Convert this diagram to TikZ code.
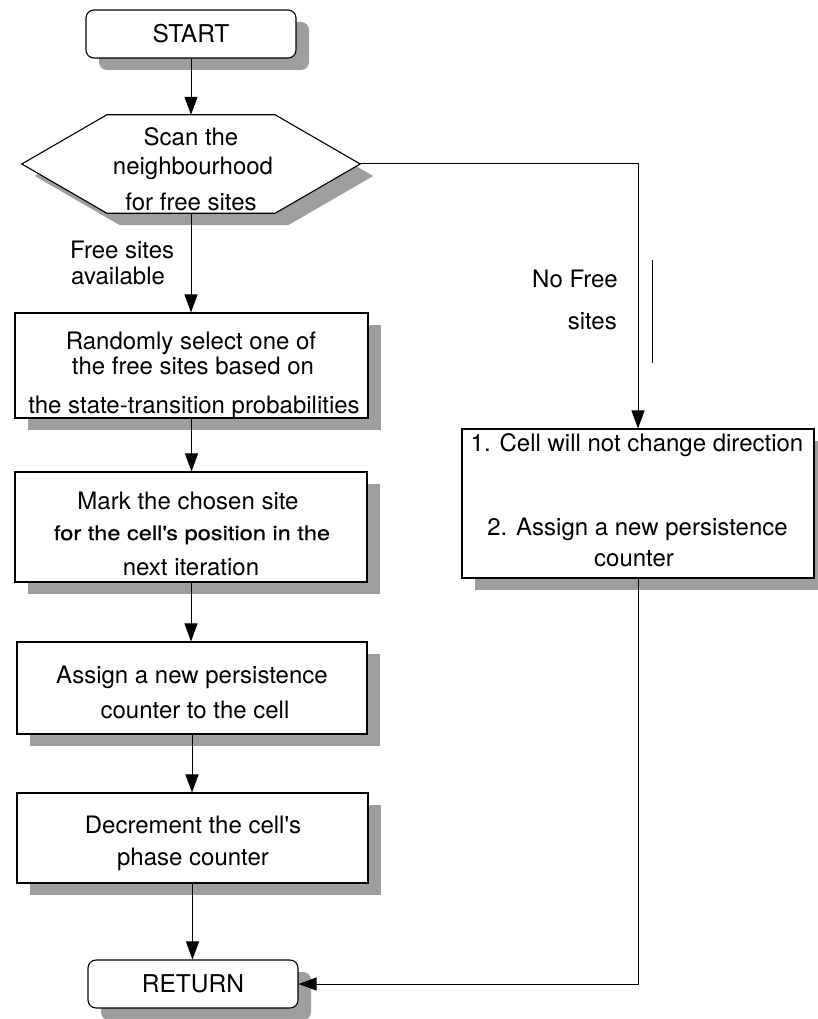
\documentclass[tikz,border=0pt]{standalone}
\usepackage{fontspec}
\setmainfont{TeX Gyre Heros}
\newfontfamily\widefont[FakeStretch=1.18,FakeBold=0.6]{TeX Gyre Heros}
\usetikzlibrary{arrows.meta,shadows}
\begin{document}
\begin{tikzpicture}[x=1pt,y=-1pt,
  shade/.style={drop shadow={shadow xshift=13pt,shadow yshift=-12pt,fill=black!38,opacity=1}},
  box/.style={draw,line width=1.1pt,fill=white,inner sep=0pt,shade},
  term/.style={box,rounded corners=8pt,minimum width=210pt,minimum height=48pt,
    font=\fontsize{24.5}{28}\selectfont},
  ln/.style={anchor=base,inner sep=0pt,font=\fontsize{24}{28}\selectfont},
  lnw/.style={ln,anchor=base west},
  lne/.style={ln,anchor=base east},
  arr/.style={line width=1pt,-{Triangle[length=18pt,width=13pt]}}]
\useasboundingbox (0,0) rectangle (817,1019);

% terminals
\node[term] (start) at (191,34) {START};
\node[term] (ret) at (193,984) {RETURN};

% decision hexagon
\node[minimum width=338pt,minimum height=98pt,inner sep=0pt] (scan) at (191,164) {};
\draw[box] ([xshift=85pt]scan.north west) -- ([xshift=-85pt]scan.north east)
  -- (scan.east) -- ([xshift=-85pt]scan.south east)
  -- ([xshift=85pt]scan.south west) -- (scan.west) -- cycle;
\node[ln] (scan1) at (191,146) {Scan the};
\node[ln] (scan2) at (193,175) {neighbourhood};
\node[ln] (scan3) at (191,211) {for free sites};

% process boxes, left branch
\node[box,minimum width=353pt,minimum height=105pt] (rand) at (191.5,365.5) {};
\node[ln] (rand1) at (191,349) {Randomly select one of};
\node[ln] (rand2) at (193,374) {the free sites based on};
\node[ln] (rand3) at (194,413) {the state-transition probabilities};

\node[box,minimum width=352pt,minimum height=110pt] (mark) at (191,527) {};
\node[ln] (mark1) at (188,509) {Mark the chosen site};
\node[ln,font=\widefont\fontsize{20}{24}\selectfont] (mark2) at (192,540)
  {for the cell\textquotesingle s position in the};
\node[ln] (mark3) at (191,575) {next iteration};

\node[box,minimum width=350pt,minimum height=92pt] (assign) at (192,688) {};
\node[ln] (assign1) at (192,683) {Assign a new persistence};
\node[ln] (assign2) at (195,718) {counter to the cell};

\node[box,minimum width=351pt,minimum height=90pt] (decr) at (192.5,838) {};
\node[ln] (decr1) at (193,833) {Decrement the cell\textquotesingle s};
\node[ln] (decr2) at (193,865) {phase counter};

% process box, right branch
\node[box,minimum width=352pt,minimum height=149pt] (keep) at (638,503.5) {};
\node[ln] (keep1) at (637,451) {1. Cell will not change direction};
\node[ln] (keep2) at (637.5,535) {2. Assign a new persistence};
\node[ln] (keep3) at (634,566) {counter};

% branch labels
\node[lnw] (yes1) at (70,258) {Free sites};
\node[lnw] (yes2) at (71,284) {available};
\node[lne] (no1) at (618,287) {No Free};
\node[lne] (no2) at (617,329) {sites};

% connectors
\draw[arr] (start.south) -- (start.south |- scan.north);
\draw[arr] (scan.south) -- (scan.south |- rand.north);
\draw[arr] (rand.south) -- (rand.south |- mark.north);
\draw[arr] (mark.south) -- (mark.south |- assign.north);
\draw[arr] (assign.south) -- (assign.south |- decr.north);
\draw[arr] (decr.south) -- (decr.south |- ret.north);
\draw[arr] (scan.east) -| (keep.north);
\draw[arr] (keep.south) |- (ret.east);

% short stroke beside the right branch
\coordinate (s1) at (652,260);
\coordinate (s2) at (652,363);
\draw[line width=0.9pt] (s1) -- (s2);
\end{tikzpicture}
\end{document}
